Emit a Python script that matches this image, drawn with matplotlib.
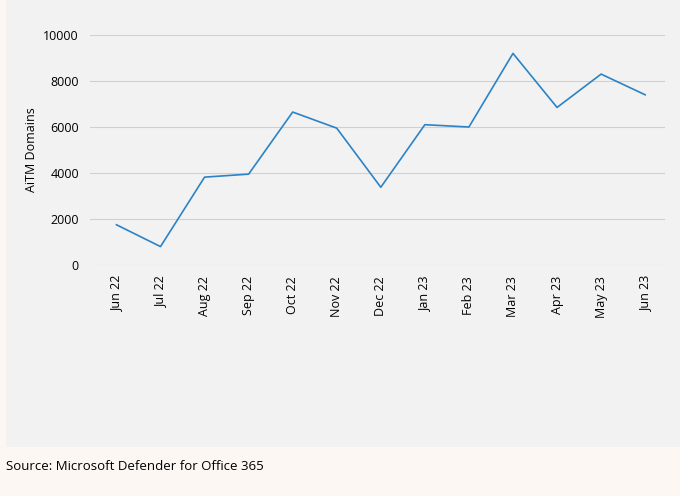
import matplotlib.pyplot as plt
from matplotlib.patches import Rectangle

months = ['Jun 22', 'Jul 22', 'Aug 22', 'Sep 22', 'Oct 22', 'Nov 22', 'Dec 22',
          'Jan 23', 'Feb 23', 'Mar 23', 'Apr 23', 'May 23', 'Jun 23']
domains = [1750, 800, 3820, 3950, 6650, 5950, 3380, 6100, 6000, 9200, 6850, 8300, 7400]

plt.rcParams['font.family'] = ['Open Sans', 'DejaVu Sans']

fig = plt.figure(figsize=(6.8, 4.96), dpi=100, facecolor='#fdf7f4')
fig.patches.append(Rectangle((6/680, 1-447/496), 1-6/680, 447/496,
                             transform=fig.transFigure, facecolor='#f2f2f2',
                             edgecolor='none', zorder=-1))
ax = fig.add_axes([90/680, 1-265/496, 575/680, 230/496])
ax.set_zorder(2)
ax.set_facecolor('#f2f2f2')
x = range(len(months))
ax.plot(x, domains, color='#2b83c6', linewidth=1.2)
ax.set_xlim(-0.6, len(months) - 0.55)
ax.set_ylim(0, 10000)
ax.set_yticks(range(0, 10001, 2000))
ax.set_xticks(list(x))
ax.set_xticklabels(months, rotation=90, fontsize=9)
ax.tick_params(axis='y', labelsize=9, length=0, pad=8)
ax.tick_params(axis='x', length=0, pad=8)
ax.grid(axis='y', color='#d0d0d0', linewidth=0.8)
ax.set_axisbelow(True)
for s in ax.spines.values():
    s.set_visible(False)
ax.set_ylabel('AiTM Domains', fontsize=9)
fig.text(6/680, 1-466/496, 'Source: Microsoft Defender for Office 365',
         fontsize=9.5, va='center')
fig.savefig('out.png', dpi=100, facecolor=fig.get_facecolor())
